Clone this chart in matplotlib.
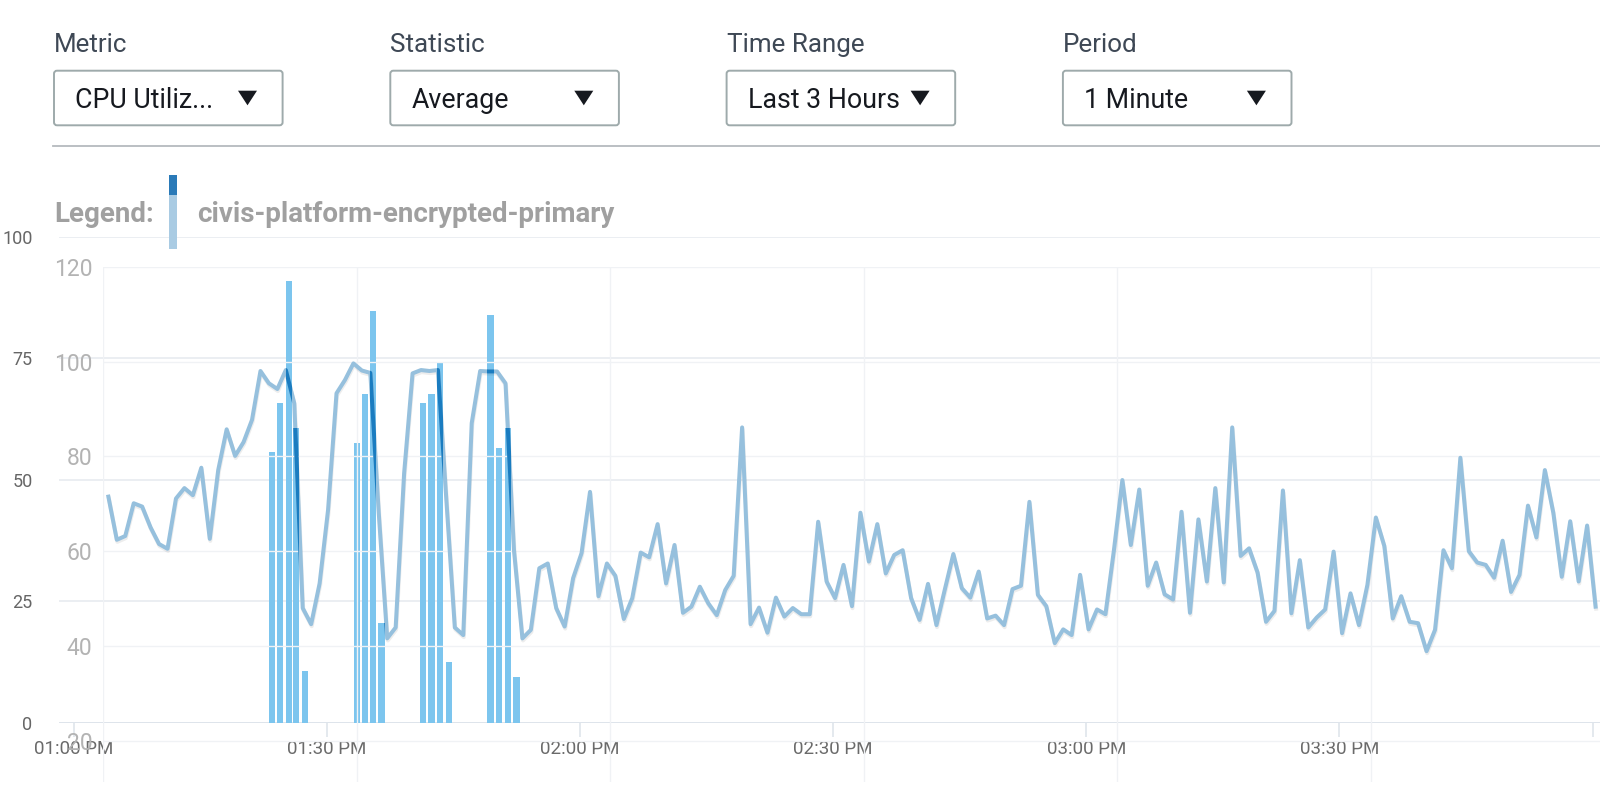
import numpy as np
import matplotlib.pyplot as plt
import matplotlib.transforms as mtransforms
import matplotlib.patheffects as pe
from matplotlib.patches import Rectangle, FancyBboxPatch, Polygon
from matplotlib.lines import Line2D

W, H = 1600, 797
plt.rcParams['font.family'] = ['Roboto', 'DejaVu Sans']

# header controls
dropdown_titles = ['Metric', 'Statistic', 'Time Range', 'Period']
dropdown_values = ['CPU Utiliz...', 'Average', 'Last 3 Hours', '1 Minute']
legend_name = 'civis-platform-encrypted-primary'

# line series, one sample per minute (minutes after 01:00 PM)
line_first_minute = 0.6
line_values = [
    71.5, 62.4, 63.2, 70.1, 69.4, 65.0, 61.5, 60.5, 71.1, 73.3,
    71.8, 77.6, 62.6, 77.1, 85.7, 80.1, 83.0, 87.7, 98.0, 95.4,
    94.2, 98.2, 91.2, 48.0, 44.6, 53.2, 68.7, 93.3, 96.1, 99.6,
    98.1, 97.6, 68.0, 41.6, 43.9, 76.4, 97.5, 98.2, 98.0, 98.2,
    70.8, 43.9, 42.3, 87.0, 98.0, 97.9, 97.9, 95.4, 60.2, 41.6,
    43.4, 56.4, 57.4, 48.0, 44.1, 54.3, 59.6, 72.5, 50.5, 57.4,
    54.8, 45.7, 50.1, 59.7, 58.7, 65.7, 53.2, 61.3, 47.0, 48.3,
    52.5, 49.0, 46.5, 51.8, 54.8, 86.1, 44.6, 48.1, 42.8, 50.2,
    46.2, 48.0, 46.7, 46.7, 66.2, 53.6, 50.1, 57.1, 48.4, 68.1,
    57.8, 65.7, 55.3, 59.2, 60.2, 50.1, 45.5, 53.1, 44.4, 52.0,
    59.4, 52.2, 50.2, 55.7, 45.8, 46.4, 44.4, 52.0, 52.7, 70.4,
    50.8, 48.4, 40.6, 43.5, 42.3, 55.0, 43.5, 47.7, 46.7, 60.2,
    75.0, 61.3, 73.0, 52.7, 57.6, 50.9, 49.8, 68.3, 47.0, 66.7,
    53.6, 73.3, 53.4, 86.1, 59.0, 60.6, 55.5, 45.1, 47.4, 72.8,
    46.9, 58.1, 43.9, 46.0, 47.7, 59.9, 42.7, 51.1, 44.4, 52.9,
    67.1, 61.1, 45.8, 50.5, 45.1, 44.8, 38.9, 43.4, 60.2, 56.4,
    79.7, 60.0, 57.6, 57.1, 54.4, 62.2, 51.4, 55.0, 69.6, 62.9,
    77.1, 68.1, 54.6, 66.3, 53.6, 65.4, 48.3,
]

# bar series (minutes after 01:00 PM)
bar_minutes = [23.5, 24.5, 25.5, 26.4, 27.4,
               33.6, 34.5, 35.5, 36.5,
               41.4, 42.4, 43.4, 44.5,
               49.4, 50.4, 51.5, 52.5]
bar_values = [55.8, 65.7, 90.9, 60.7, 10.7,
              57.6, 67.6, 84.7, 20.6,
              65.7, 67.6, 73.9, 12.5,
              83.9, 56.5, 60.7, 9.5]

time_ticks = [0, 30, 60, 90, 120, 150, 180]
time_labels = ['01:00 PM', '01:30 PM', '02:00 PM', '02:30 PM', '03:00 PM', '03:30 PM', '']
bar_yticks = [0, 25, 50, 75, 100]
line_yticks = [20, 40, 60, 80, 100, 120]

fig = plt.figure(figsize=(W / 100, H / 100), dpi=100)
px = mtransforms.Affine2D().scale(1, -1).translate(0, H)   # pixel coords, y from top


def box(l, t, r, b):
    return [l / W, 1 - b / H, (r - l) / W, (b - t) / H]


#bar chart (back)
ax_bar = fig.add_axes(box(59, 236.5, 1600, 723))
for s in ax_bar.spines.values():
    s.set_visible(False)
ax_bar.set_yticks(bar_yticks)
ax_bar.set_yticklabels([str(v) for v in bar_yticks])
ax_bar.set_xticks(time_ticks)
ax_bar.set_xticklabels(time_labels)
ax_bar.set_xlim((59 - 73.5) / 8.44, (1600 - 73.5) / 8.44)
ax_bar.set_ylim(0, 100)
ax_bar.tick_params(axis='y', length=0, pad=19, labelsize=13, labelcolor='#666666')
ax_bar.tick_params(axis='x', length=10, width=1.2, color='#dfe5eb', pad=2.5,
                   labelsize=13.5, labelcolor='#6a6a6a')
ax_bar.grid(axis='y', color='#e6eaef', lw=1.1)
ax_bar.set_axisbelow(True)
ax_bar.axhline(0, color='#dbe2e9', lw=1.8, zorder=1)
bars = ax_bar.bar(bar_minutes, bar_values, width=0.75, color='#7cc5ee', zorder=3)

#line chart (front)
ax_line = fig.add_axes(box(103.3, 266.7, 1600, 782))
ax_line.set_zorder(2)
ax_line.patch.set_visible(False)
for s in ax_line.spines.values():
    s.set_visible(False)
ax_line.set_yticks(line_yticks)
ax_line.set_yticklabels([str(v) for v in line_yticks])
ax_line.set_xticks(time_ticks)
ax_line.set_xticklabels([])
ax_line.set_xlim(0, (1600 - 103.3) / 8.45)
ax_line.set_ylim(120 - (782 - 266.7) / 4.741, 120)
ax_line.tick_params(axis='y', length=0, pad=8, labelsize=16.5, labelcolor='#b3b3b3')
ax_line.tick_params(axis='x', length=0)
ax_line.grid(True, color='#f0f2f5', lw=1.0)

t = line_first_minute + np.arange(len(line_values))
ax_line.plot(t, line_values, color='#96c0dd', lw=2.9, solid_joinstyle='round',
             path_effects=[pe.SimpleLineShadow(offset=(0.4, -1.5), shadow_color='#000000', alpha=0.07),
                           pe.Normal()])
# darker where the line crosses the bars
for b in bars:
    seg, = ax_line.plot(t, line_values, color='#1a7cc0', lw=2.9, solid_joinstyle='round')
    seg.set_clip_path(b)

#header
for i in range(len(dropdown_titles)):
    left = 54 + 336.3 * i
    fig.text(left, 51.7, dropdown_titles[i], transform=px, fontsize=18.7,
             color='#3e4855', va='baseline')
    fig.add_artist(FancyBboxPatch((left, 70.7), 228.6, 54.6, transform=px,
                                  boxstyle='round,pad=0,rounding_size=3',
                                  fc='white', ec='#9eaaab', lw=1.4))
    fig.text(left + 21, 108.3, dropdown_values[i], transform=px, fontsize=19.3,
             color='#16191f', va='baseline')
    tri_l = left + 184
    fig.add_artist(Polygon([[tri_l, 90.7], [tri_l + 19, 90.7], [tri_l + 9.5, 105.3]],
                           closed=True, transform=px, fc='#16191f', ec='none'))

fig.add_artist(Line2D([53.3, 1600], [145.7, 145.7], transform=px, color='#b5babe', lw=1.3))

#legend
fig.text(54.3, 221.7, 'Legend:', transform=px, fontsize=20, fontweight='bold',
         color='#a0a0a0', va='baseline')
fig.add_artist(Rectangle((169.3, 175), 7.4, 20, transform=px, fc='#2a7ab8', ec='none'))
fig.add_artist(Rectangle((169.3, 195), 7.4, 54.3, transform=px, fc='#a9cbe3', ec='none'))
fig.text(196.7, 221.7, legend_name, transform=px, fontsize=20, fontweight='bold',
         color='#a0a0a0', va='baseline')

fig.savefig('out.png', dpi=100, facecolor='white')
